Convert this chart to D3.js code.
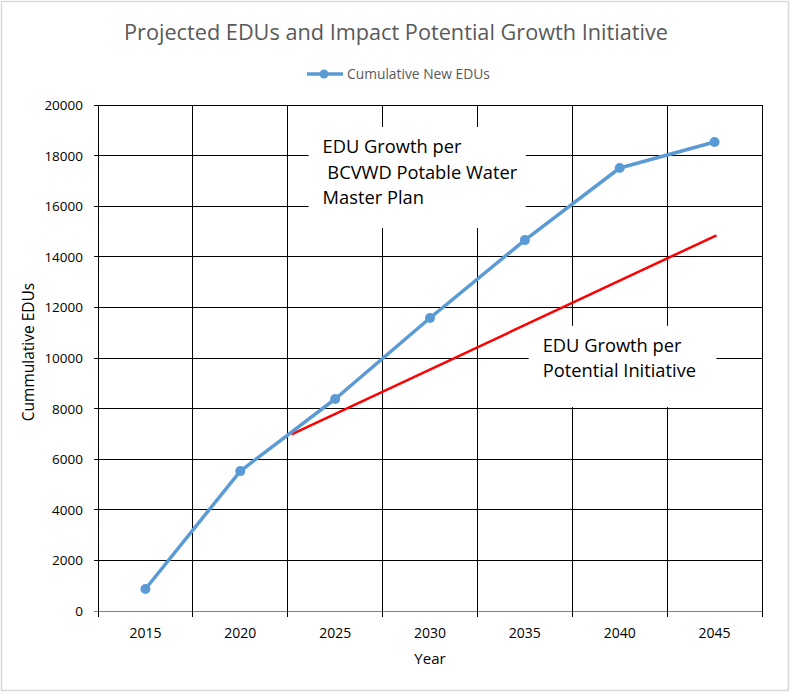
<!DOCTYPE html>
<html><head><meta charset="utf-8">
<script src="https://cdn.jsdelivr.net/npm/d3@7"></script>
<style>body{margin:0;background:#fff;} text{font-family:"Open Sans","Noto Sans",sans-serif;}</style>
</head><body>
<svg id="c" width="790" height="694"></svg>
<script>
const years = [2015, 2020, 2025, 2030, 2035, 2040, 2045];
const cumulativeEDUs = [870, 5530, 8380, 11580, 14660, 17510, 18540];
const yTicks = [0, 2000, 4000, 6000, 8000, 10000, 12000, 14000, 16000, 18000, 20000];
const initiativeYears = [2022.7, 2045.1];
const initiativeEDUs = [6980, 14850];
const notes = [
  {lines: ["EDU Growth per", " BCVWD Potable Water", "Master Plan"], year: 2023.6, value: 19130, year2: 2035.05, value2: 15140},
  {lines: ["EDU Growth per", "Potential Initiative"], year: 2035.2, value: 11270, year2: 2045.1, value2: 8060}
];

const svg = d3.select("#c");
const m = {l: 98, r: 762, t: 105, b: 611};
svg.append("rect").attr("x",1.5).attr("y",1.5).attr("width",787).attr("height",689)
  .attr("fill","#fff").attr("stroke","#d9d9d9").attr("stroke-width",1.5);

const x = d3.scaleBand().domain(years).range([m.l, m.r]);
const y = d3.scaleLinear().domain([0, 20000]).range([m.b, m.t]);
const xc = d => x(d) + x.bandwidth()/2;
const xYear = d3.scaleLinear().domain([2015, 2045]).range([xc(2015), xc(2045)]);

// gridlines
const g = svg.append("g");
g.selectAll(".hg").data(yTicks).join("line")
  .attr("x1", m.l - 4).attr("x2", m.r).attr("y1", d => y(d)).attr("y2", d => y(d))
  .attr("stroke", d => d === 0 ? "#7f7f7f" : "#000").attr("stroke-width", 1).attr("shape-rendering","crispEdges");
const vx = years.map(d => x(d)).concat([m.r]);
g.selectAll(".vg").data(vx).join("line")
  .attr("x1", d => d).attr("x2", d => d).attr("y1", m.t).attr("y2", m.b + 6)
  .attr("stroke", "#000").attr("stroke-width", 1).attr("shape-rendering","crispEdges");

// y labels
svg.selectAll(".yl").data(yTicks).join("text")
  .attr("x", 83).attr("y", d => y(d) + 5).attr("text-anchor","end")
  .attr("font-size", 13.5).attr("fill", "#000").text(d => d);
// x labels
svg.selectAll(".xl").data(years).join("text")
  .attr("x", d => xc(d)).attr("y", 638).attr("text-anchor","middle")
  .attr("font-size", 14).attr("fill", "#000").text(d => d);

svg.append("text").attr("x", 430).attr("y", 664).attr("text-anchor","middle")
  .attr("font-size", 15).attr("fill","#000").text("Year");
svg.append("text").attr("transform","translate(34,352) rotate(-90)").attr("text-anchor","middle")
  .attr("font-size", 15.5).attr("fill","#000").text("Cummulative EDUs");

// title
svg.append("text").attr("x", 396).attr("y", 40).attr("text-anchor","middle")
  .attr("font-size", 21.7).attr("fill","#595959").text("Projected EDUs and Impact Potential Growth Initiative");

// legend
const lg = svg.append("g");
lg.append("line").attr("x1", 307).attr("x2", 343).attr("y1", 74).attr("y2", 74)
  .attr("stroke","#5B9BD5").attr("stroke-width",3.5);
lg.append("circle").attr("cx", 324).attr("cy", 74).attr("r", 4.5).attr("fill","#5B9BD5");
lg.append("text").attr("x", 347).attr("y", 79).attr("font-size", 13.8).attr("fill","#595959").text("Cumulative New EDUs");

// note boxes
notes.forEach(n => {
  const bx = xYear(n.year), by = y(n.value), bw = xYear(n.year2) - bx, bh = y(n.value2) - by;
  svg.append("rect").attr("x", bx).attr("y", by).attr("width", bw).attr("height", bh).attr("fill","#fff");
  n.lines.forEach((t, i) => {
    svg.append("text").attr("x", bx + 14).attr("y", by + 26 + i*25.5)
      .attr("font-size", 18.3).attr("fill","#000").style("white-space","pre").attr("xml:space","preserve").text(t);
  });
});

// red initiative line
svg.append("line")
  .attr("x1", xYear(initiativeYears[0])).attr("y1", y(initiativeEDUs[0]))
  .attr("x2", xYear(initiativeYears[1])).attr("y2", y(initiativeEDUs[1]))
  .attr("stroke","#ff0000").attr("stroke-width",2.5);

// series
const line = d3.line().x((d,i) => xc(years[i])).y(d => y(d));
svg.append("path").datum(cumulativeEDUs).attr("d", line).attr("fill","none")
  .attr("stroke","#5B9BD5").attr("stroke-width",3.5).attr("stroke-linejoin","round");
svg.selectAll(".pt").data(cumulativeEDUs).join("circle")
  .attr("cx", (d,i) => xc(years[i])).attr("cy", d => y(d)).attr("r", 5).attr("fill","#5B9BD5");
</script>
</body></html>
